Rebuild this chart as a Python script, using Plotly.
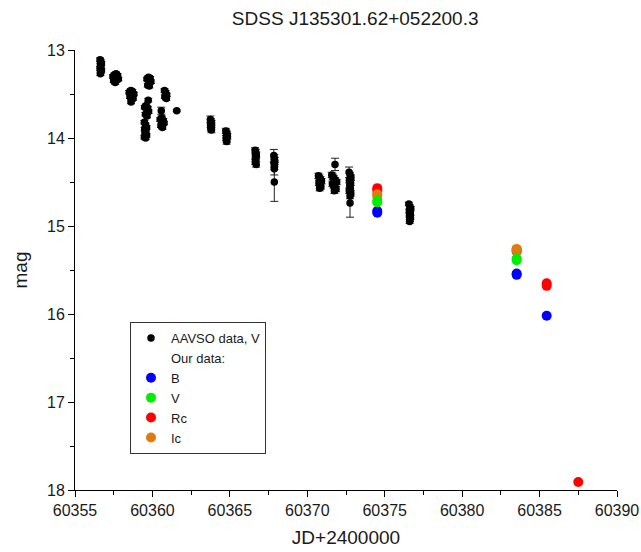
import plotly.graph_objects as go

# ---------------- data ----------------
# AAVSO V-band (JD-2400000, mag, err)
aavso_jd = [
    # cluster ~60356.7
    60356.62, 60356.66, 60356.70, 60356.64, 60356.68, 60356.62, 60356.70, 60356.66, 60356.64,
    # ~60357.6
    60357.45, 60357.55, 60357.65, 60357.75, 60357.80, 60357.50, 60357.60, 60357.70,
    # ~60358.7
    60358.50, 60358.60, 60358.70, 60358.80, 60358.55, 60358.65, 60358.75, 60358.62,
    # ~60359.8 (bright)
    60359.65, 60359.75, 60359.85, 60359.90, 60359.70, 60359.80,
    60359.73,
    # ~60359.6
    60359.50, 60359.60, 60359.70, 60359.75, 60359.55, 60359.65,
    60359.48, 60359.55, 60359.62, 60359.50, 60359.58, 60359.52, 60359.62, 60359.48, 60359.56,
    # ~60360.8
    60360.78, 60360.85, 60360.92, 60360.80, 60360.90,
    60360.57,
    60360.50, 60360.60, 60360.70, 60360.75, 60360.55, 60360.65,
    60361.57,
    # ~60363.8
    60363.74, 60363.78, 60363.82, 60363.76, 60363.80, 60363.77, 60363.81,
    # ~60364.8
    60364.74, 60364.78, 60364.82, 60364.84, 60364.76, 60364.80, 60364.79,
    # ~60366.7
    60366.63, 60366.67, 60366.71, 60366.65, 60366.69, 60366.64, 60366.70,
    # ~60367.9
    60367.84, 60367.87, 60367.90, 60367.86, 60367.88, 60367.87, 60367.87,
    # ~60370.8
    60370.72, 60370.78, 60370.85, 60370.92, 60370.75, 60370.82, 60370.88, 60370.80,
    # ~60371.75
    60371.58, 60371.65, 60371.72, 60371.80, 60371.90, 60371.62, 60371.70, 60371.78, 60371.86, 60371.75,
    60371.79,
    # ~60372.8
    60372.70, 60372.76, 60372.82, 60372.72, 60372.80, 60372.74, 60372.78, 60372.71, 60372.81, 60372.76,
    60372.76,
    # ~60376.6
    60376.56, 60376.62, 60376.68, 60376.59, 60376.65, 60376.60, 60376.66, 60376.63, 60376.61,
]
aavso_mag = [
    13.11, 13.13, 13.15, 13.17, 13.19, 13.21, 13.23, 13.25, 13.27,
    13.30, 13.28, 13.27, 13.29, 13.33, 13.35, 13.37, 13.34,
    13.48, 13.46, 13.47, 13.50, 13.53, 13.56, 13.55, 13.59,
    13.33, 13.31, 13.32, 13.36, 13.40, 13.41,
    13.57,
    13.65, 13.63, 13.66, 13.70, 13.73, 13.75,
    13.82, 13.85, 13.88, 13.90, 13.93, 13.95, 13.97, 13.99, 14.00,
    13.46, 13.48, 13.51, 13.53, 13.55,
    13.69,
    13.79, 13.77, 13.80, 13.83, 13.86, 13.88,
    13.69,
    13.79, 13.81, 13.83, 13.85, 13.87, 13.89, 13.91,
    13.92, 13.94, 13.96, 13.98, 14.00, 14.02, 14.04,
    14.14, 14.16, 14.19, 14.21, 14.24, 14.27, 14.30,
    14.20, 14.23, 14.26, 14.29, 14.32, 14.35, 14.50,
    14.43, 14.45, 14.47, 14.49, 14.51, 14.53, 14.55, 14.57,
    14.42, 14.44, 14.46, 14.48, 14.50, 14.52, 14.54, 14.56, 14.58, 14.60,
    14.30,
    14.39, 14.42, 14.45, 14.48, 14.51, 14.54, 14.57, 14.60, 14.63, 14.66,
    14.74,
    14.75, 14.78, 14.80, 14.83, 14.85, 14.88, 14.90, 14.93, 14.95,
]
aavso_err = [
    0.02, 0.02, 0.02, 0.02, 0.02, 0.02, 0.02, 0.02, 0.02,
    0.02, 0.02, 0.02, 0.02, 0.02, 0.02, 0.02, 0.02,
    0.02, 0.02, 0.02, 0.02, 0.02, 0.02, 0.02, 0.02,
    0.02, 0.02, 0.02, 0.02, 0.02, 0.02,
    0.02,
    0.02, 0.02, 0.02, 0.02, 0.02, 0.02,
    0.02, 0.02, 0.02, 0.02, 0.02, 0.02, 0.02, 0.02, 0.02,
    0.02, 0.02, 0.02, 0.02, 0.02,
    0.04,
    0.02, 0.02, 0.02, 0.02, 0.02, 0.02,
    0.01,
    0.04, 0.03, 0.03, 0.03, 0.03, 0.03, 0.03,
    0.03, 0.03, 0.03, 0.03, 0.03, 0.03, 0.03,
    0.03, 0.03, 0.03, 0.03, 0.03, 0.03, 0.03,
    0.07, 0.04, 0.04, 0.04, 0.04, 0.07, 0.22,
    0.03, 0.03, 0.03, 0.03, 0.03, 0.03, 0.03, 0.03,
    0.03, 0.03, 0.03, 0.03, 0.03, 0.03, 0.03, 0.03, 0.03, 0.03,
    0.07,
    0.06, 0.03, 0.03, 0.03, 0.03, 0.03, 0.03, 0.03, 0.03, 0.03,
    0.16,
    0.02, 0.02, 0.02, 0.02, 0.02, 0.02, 0.02, 0.02, 0.02,
]

# Our data
b_jd = [60374.52, 60374.52, 60383.52, 60383.52, 60385.46]
b_mag = [14.83, 14.85, 15.54, 15.555, 16.02]
v_jd = [60374.52, 60374.52, 60383.52, 60383.52]
v_mag = [14.71, 14.73, 15.37, 15.39]
rc_jd = [60374.52, 60374.52, 60383.52, 60383.52, 60385.46, 60385.46, 60387.50]
rc_mag = [14.57, 14.60, 15.27, 15.29, 15.65, 15.68, 17.91]
ic_jd = [60374.52, 60374.52, 60383.52, 60383.52]
ic_mag = [14.64, 14.66, 15.26, 15.28]

title_text = "SDSS J135301.62+052200.3"
x_label = "JD+2400000"
y_label = "mag"
x_ticks = [60355, 60360, 60365, 60370, 60375, 60380, 60385, 60390]
y_ticks = [13, 14, 15, 16, 17, 18]

FONT = "Liberation Sans, Arial, sans-serif"
TXT = "#1a1a1a"

fig = go.Figure()

fig.add_trace(go.Scatter(
    x=aavso_jd, y=aavso_mag, mode="markers", name="AAVSO data, V",
    marker=dict(color="black", size=7.5),
    error_y=dict(type="data", array=aavso_err, color="#222222", thickness=1, width=4),
    legendrank=1, cliponaxis=False,
))
fig.add_trace(go.Scatter(
    x=[None], y=[None], mode="markers", name="Our data:",
    marker=dict(color="rgba(0,0,0,0)", size=8), legendrank=2,
))
fig.add_trace(go.Scatter(x=b_jd, y=b_mag, mode="markers", name="B",
                         marker=dict(color="#0000ff", size=10), legendrank=3, cliponaxis=False))
fig.add_trace(go.Scatter(x=rc_jd, y=rc_mag, mode="markers", name="Rc",
                         marker=dict(color="#ff0000", size=10), legendrank=5, cliponaxis=False))
fig.add_trace(go.Scatter(x=ic_jd, y=ic_mag, mode="markers", name="Ic",
                         marker=dict(color="#e07b10", size=10), legendrank=6, cliponaxis=False))
fig.add_trace(go.Scatter(x=v_jd, y=v_mag, mode="markers", name="V",
                         marker=dict(color="#00ee00", size=10), legendrank=4, cliponaxis=False))

axis_common = dict(
    showgrid=False, zeroline=False, showline=True, linecolor="black", linewidth=1,
    ticks="outside", ticklen=6, tickwidth=1, tickcolor="black",
    tickfont=dict(family=FONT, size=16, color=TXT),
    mirror=False, automargin=False,
)

fig.update_xaxes(
    range=[60355, 60390], tickvals=x_ticks, ticktext=[str(t) for t in x_ticks],
    minor=dict(ticks="outside", ticklen=4, dtick=2.5, tick0=60355, tickcolor="black"),
    title=dict(text=x_label, font=dict(family=FONT, size=19, color=TXT), standoff=12),
    **axis_common,
)
fig.update_yaxes(
    range=[18, 13], tickvals=y_ticks, ticktext=[str(t) for t in y_ticks],
    minor=dict(ticks="outside", ticklen=4, dtick=0.5, tick0=13, tickcolor="black"),
    title=dict(text=y_label, font=dict(family=FONT, size=19, color=TXT), standoff=14),
    **axis_common,
)

fig.update_layout(
    width=641, height=552,
    margin=dict(l=75, r=24, t=50, b=62, autoexpand=False),
    paper_bgcolor="white", plot_bgcolor="white",
    title=dict(text=title_text, x=0.517, xref="paper", xanchor="center",
               y=1 - 18 / 552, yanchor="middle",
               font=dict(family=FONT, size=19, color=TXT)),
    showlegend=True,
    legend=dict(
        x=(130 - 75) / 542, y=(490 - 322) / 440, xanchor="left", yanchor="top",
        bgcolor="white", bordercolor="#333333", borderwidth=1,
        font=dict(family=FONT, size=13, color=TXT),
        tracegroupgap=0, itemsizing="trace",
    ),
)

fig.write_html(
    "out.html",
    config={"displayModeBar": False},
    post_script="document.body.style.margin='0px';document.body.style.padding='0px';",
)
